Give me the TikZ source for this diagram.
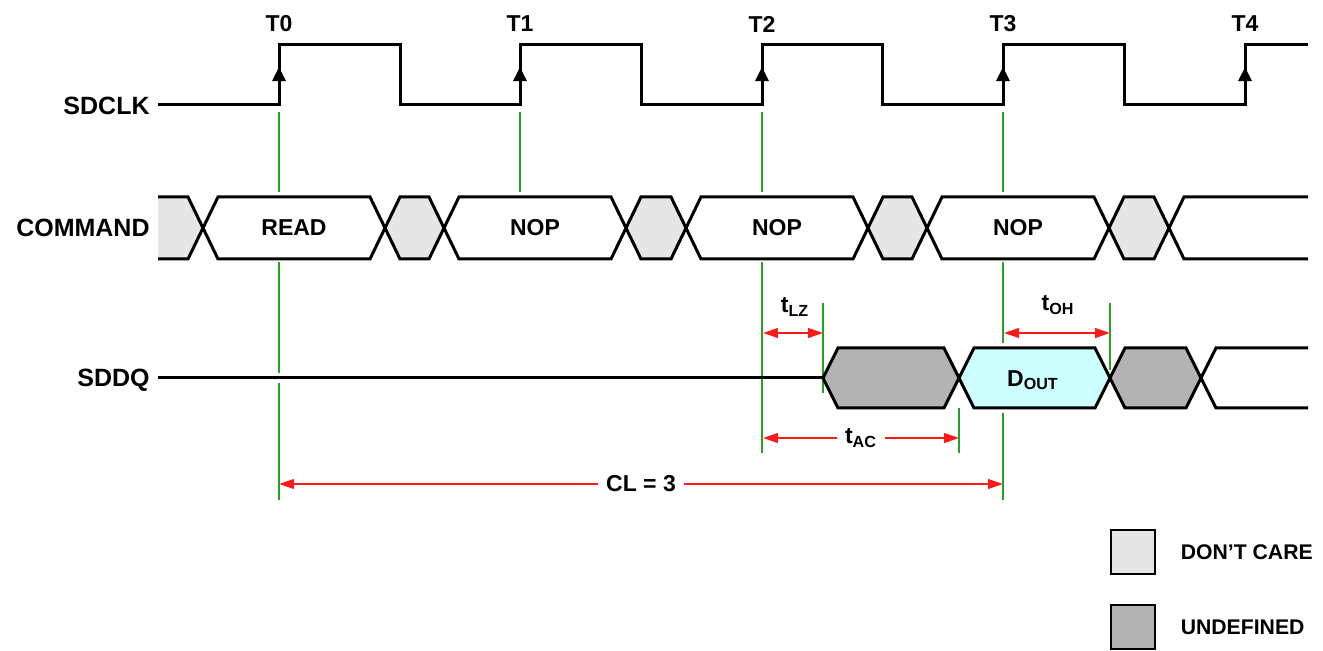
\documentclass[tikz,border=0pt]{standalone}
\usepackage{fontspec}
\setmainfont{Liberation Sans}
\usetikzlibrary{arrows.meta, positioning}
\definecolor{guidegreen}{RGB}{40, 160, 40}
\definecolor{dimred}{RGB}{255, 25, 25}
\definecolor{dontcare}{RGB}{230, 230, 230}
\definecolor{undefgray}{RGB}{179, 179, 179}
\definecolor{doutcyan}{RGB}{204, 255, 255}
\tikzset{
  >=Stealth,
  wave/.style={line width=1.5pt, black, line join=miter},
  guide/.style={guidegreen, line width=0.55pt},
  dimarrow/.style={{Triangle[length=2.6mm, width=1.7mm]}-{Triangle[length=2.6mm, width=1.7mm]}, line width=0.8pt, dimred},
  clkarrow/.style={-{Triangle[length=2.5mm, width=2.3mm]}, line width=1.5pt},
  signame/.style={font=\fontsize{12.5}{14}\selectfont\bfseries, anchor=east, inner sep=0pt},
  tickname/.style={font=\fontsize{11.5}{13}\selectfont\bfseries},
  celltext/.style={font=\fontsize{11.5}{13}\selectfont\bfseries, text=black},
  dimtext/.style={font=\fontsize{11.5}{13}\selectfont\bfseries, text=black, fill=white, inner sep=4pt},
  legendbox/.style={draw, line width=1.4pt, minimum size=22pt, inner sep=0pt},
  legendtext/.style={font=\fontsize{10.6}{13}\selectfont\bfseries, inner sep=0pt}
}

\begin{document}
\begin{tikzpicture}[x=0.5pt, y=-0.5pt]
    \useasboundingbox (0,0) rectangle (1323,651);
    % signal names
    \node[signame] (sdclk) at (150,106) {SDCLK};
    \node[signame] (command) at (150,228) {COMMAND};
    \node[signame] (sddq) at (150,380) {SDDQ};
    % clock
    \draw[wave] (158,105) -- (279,105) -- (279,45) -- (400,45) -- (400,105)
        -- (520,105) -- (520,45) -- (641,45) -- (641,105)
        -- (762,105) -- (762,45) -- (882,45) -- (882,105)
        -- (1003,105) -- (1003,45) -- (1124,45) -- (1124,105)
        -- (1245,105) -- (1245,45) -- (1308,45);
    \foreach \x/\name/\txt in {279/t0/T0, 520/t1/T1, 762/t2/T2, 1003/t3/T3, 1245/t4/T4} {
        \draw[clkarrow] (\x,86) -- (\x,67);
        \node[tickname] (\name) at (\x,24) {\txt};
    }
    % guides
    \foreach \x in {279, 520, 762, 1003}
        \draw[guide] (\x,112) -- (\x,192);
    \draw[guide] (279,262) -- (279,373);
    \draw[guide] (279,383) -- (279,500);
    \draw[guide] (762,262) -- (762,453);
    \draw[guide] (1003,262) -- (1003,343);
    \draw[guide] (1003,413) -- (1003,500);
    \draw[guide] (823,303) -- (823,393);
    \draw[guide] (959,408) -- (959,453);
    \draw[guide] (1110,303) -- (1110,370);
    % command bus
    \fill[dontcare] (158,197) -- (188,197) -- (203,228) -- (188,259) -- (158,259) -- cycle;
    \draw[wave] (158,197) -- (188,197) -- (203,228) -- (188,259) -- (158,259);
    \foreach \c/\d in {385/444, 626/686, 868/927, 1109/1169}
        \draw[wave, fill=dontcare] (\c,228) -- (\c+15,197) -- (\d-15,197) -- (\d,228)
            -- (\d-15,259) -- (\c+15,259) -- cycle;
    \foreach \c/\d/\name/\txt in {203/385/read/READ, 444/626/nopa/NOP, 686/868/nopb/NOP, 927/1109/nopc/NOP} {
        \draw[wave, fill=white] (\c,228) -- (\c+15,197) -- (\d-15,197) -- (\d,228)
            -- (\d-15,259) -- (\c+15,259) -- cycle;
        \node[celltext] (\name) at ({(\c+\d)/2},228) {\txt};
    }
    \draw[wave] (1308,197) -- (1184,197) -- (1169,228) -- (1184,259) -- (1308,259);
    % data bus
    \draw[wave] (158,378) -- (823,378);
    \draw[wave, fill=undefgray] (823,378) -- (838,348) -- (944,348) -- (959,378)
        -- (944,408) -- (838,408) -- cycle;
    \draw[wave, fill=doutcyan] (959,378) -- (974,348) -- (1095,348) -- (1110,378)
        -- (1095,408) -- (974,408) -- cycle;
    \node[celltext] (dout) at (1033,380) {D\textsubscript{OUT}};
    \draw[wave, fill=undefgray] (1110,378) -- (1125,348) -- (1186,348) -- (1201,378)
        -- (1186,408) -- (1125,408) -- cycle;
    \draw[wave] (1308,348) -- (1216,348) -- (1201,378) -- (1216,408) -- (1308,408);
    % timing
    \coordinate (lzstart) at (763,333);
    \coordinate (lzend) at (823,333);
    \coordinate (ohstart) at (1004,333);
    \coordinate (ohend) at (1110,333);
    \coordinate (acstart) at (763,438);
    \coordinate (acend) at (959,438);
    \coordinate (clstart) at (279,484);
    \coordinate (clend) at (1003,484);
    \draw[dimarrow] (lzstart) -- (lzend);
    \draw[dimarrow] (ohstart) -- (ohend);
    \node[celltext] (tlz) at (795,307) {t\textsubscript{LZ}};
    \node[celltext] (toh) at (1058,305) {t\textsubscript{OH}};
    \draw[dimarrow] (acstart) -- node[dimtext] (tac) {t\textsubscript{AC}} (acend);
    \draw[dimarrow] (clstart) -- node[dimtext] (cl) {CL = 3} (clend);
    % legend
    \node[legendbox, fill=dontcare] (dcbox) at (1133,552) {};
    \node[legendtext, right=12pt of dcbox] (dctext) {DON’T CARE};
    \node[legendbox, fill=undefgray] (udbox) at (1133,627) {};
    \node[legendtext, right=12pt of udbox] (udtext) {UNDEFINED};
\end{tikzpicture}
\end{document}
